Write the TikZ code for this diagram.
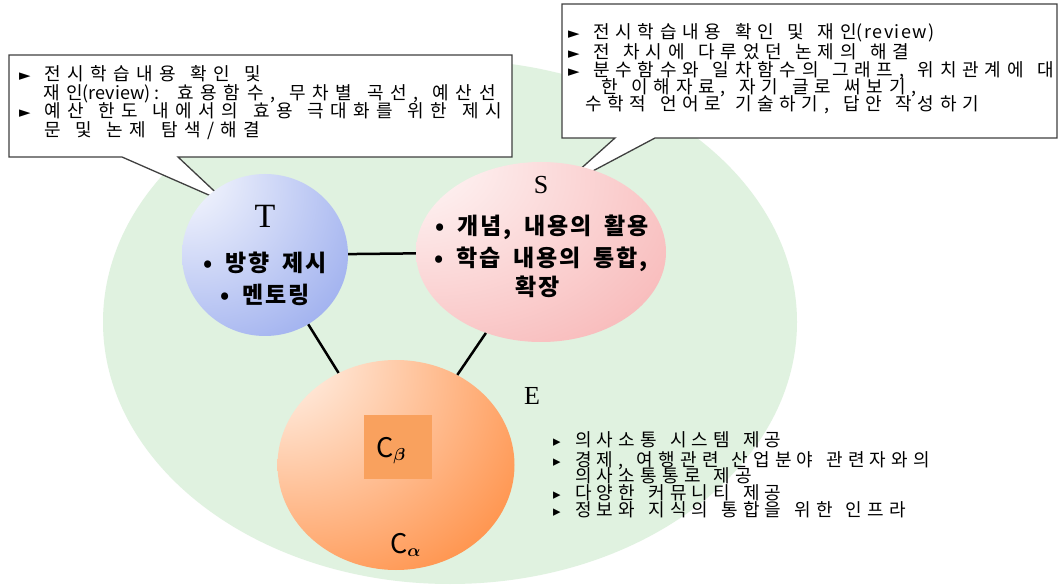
\documentclass[tikz,border=0pt]{standalone}
\usepackage{fontspec}
\usepackage{amsmath}
\usetikzlibrary{shapes.geometric}
\newfontfamily\kr[LetterSpace=36,WordSpace=1.4]{Noto Sans CJK KR}
\newfontfamily\krr[LetterSpace=32,WordSpace=1.4]{Noto Sans CJK KR}
\newfontfamily\kre[LetterSpace=29,WordSpace=1.4]{Noto Sans CJK KR}
\newfontfamily\krn{Noto Sans CJK KR}
\newfontfamily\krl[LetterSpace=8]{Noto Sans CJK KR}
\newfontfamily\krb[LetterSpace=8,WordSpace=1.8]{Noto Sans CJK KR}
\newfontfamily\sym{DejaVu Sans}
\newfontfamily\tnr{Liberation Serif}
\definecolor{greenbg}{HTML}{E0F2E0}
\definecolor{Tedge}{HTML}{7890E8}
\definecolor{Sedge}{HTML}{F59C9C}
\definecolor{Cedge}{HTML}{FF7A22}
\definecolor{Cbeta}{HTML}{F9A15E}
\pgfdeclareradialshading{Tsh}{\pgfpoint{-28bp}{28bp}}{color(0bp)=(white); color(68bp)=(Tedge); color(100bp)=(Tedge)}
\pgfdeclareradialshading{Ssh}{\pgfpoint{-32bp}{30bp}}{color(0bp)=(white); color(72bp)=(Sedge); color(100bp)=(Sedge)}
\pgfdeclareradialshading{Csh}{\pgfpoint{-30bp}{30bp}}{color(0bp)=(white); color(60bp)=(Cedge); color(100bp)=(Cedge)}
\tikzset{
  co/.style={anchor=base west, inner sep=0pt, font=\kr\fontsize{18}{20}\selectfont},
  cr/.style={anchor=base west, inner sep=0pt, font=\krr\fontsize{18}{20}\selectfont},
  et/.style={anchor=base west, inner sep=0pt, font=\kre\fontsize{18}{18}\selectfont},
  bt/.style={anchor=base, inner sep=0pt, font=\krb\bfseries\fontsize{23}{24}\selectfont},
  callout/.style={draw=black!75, line width=1.3pt, fill=white, line join=miter},
  link/.style={draw=black, line width=2.5pt},
  blob/.style={ellipse, inner sep=0pt},
}
\newcommand{\tri}{\makebox[25pt][l]{\sym\fontsize{15}{15}\selectfont ►}}
\newcommand{\stri}{\makebox[22pt][l]{\sym\fontsize{15}{15}\selectfont ▸}}
\begin{document}
\begin{tikzpicture}[x=1pt,y=-1pt]
\fill[white] (0,0) rectangle (1058,585);
\useasboundingbox (0,0) rectangle (1058,585);
% environment
\node (env) [blob, fill=greenbg, minimum width=694pt, minimum height=524pt] at (450,322) {};
% callouts
\coordinate (Ltip) at (227,203);
\coordinate (Rtip) at (557,190);
\draw[callout] (9,55) -- (512,55) -- (512,157) -- (178,157) -- (Ltip) -- (122,157) -- (9,157) -- cycle;
\draw[callout] (562,4) -- (1057,4) -- (1057,138) -- (655,138) -- (Rtip) -- (615,138) -- (562,138) -- cycle;
% main blobs
\node (T) [blob, minimum width=166pt, minimum height=162pt, shading=Tsh] at (265,255) {};
\node (S) [blob, minimum width=250pt, minimum height=180pt, shading=Ssh] at (541,252) {};
\node (Ca) [blob, minimum width=237pt, minimum height=210pt, shading=Csh] at (396,465) {};
\node (Cb) [fill=Cbeta, minimum width=68pt, minimum height=64pt, inner sep=0pt] at (398,447) {};
% links
\draw[link] (T) -- (S);
\draw[link] (T) -- (Ca);
\draw[link] (S) -- (Ca);
% labels in blobs
\node (Tl) [anchor=base, inner sep=0pt, font=\tnr\fontsize{34}{34}\selectfont] at (265,228) {T};
\node (T1) [bt] at (265,272) {• 방향 제시};
\node (T2) [bt] at (265,304) {• 멘토링};
\node (Sl) [anchor=base, inner sep=0pt, font=\tnr\fontsize{26}{26}\selectfont] at (541,194) {S};
\node (S1) [bt] at (542,235) {• 개념, 내용의 활용};
\node (S2) [bt] at (541,267) {• 학습 내용의 통합,};
\node (S3) [bt] at (538,296) {확장};
\node (El) [anchor=base west, inner sep=0pt, font=\tnr\fontsize{26}{26}\selectfont] at (524,404) {E};
\node (Cbl) [anchor=base west, inner sep=0pt, font=\krn\fontsize{27}{27}\selectfont] at (376,457) {C$_{\boldsymbol{\beta}}$};
\node (Cal) [anchor=base west, inner sep=0pt, font=\krn\fontsize{27}{27}\selectfont] at (390,553) {C$_{\boldsymbol{\alpha}}$};
% left callout text
\node (L1) [co] at (19,81) {\tri 전시학습내용 확인 및};
\node (L2) [co] at (43,100) {재인{\krn(review) :} 효용함수, 무차별 곡선, 예산선};
\node (L3) [co] at (19,118) {\tri 예산 한도 내에서의 효용 극대화를 위한 제시};
\node (L4) [co] at (44,137) {문 및 논제 탐색/해결};
% right callout text
\node (R1) [cr] at (568,39) {\tri 전시학습내용 확인 및 재인{\krl(review)}};
\node (R2) [cr] at (568,59) {\tri 전 차시에 다루었던 논제의 해결};
\node (R3) [cr] at (568,77) {\tri 분수함수와 일차함수의 그래프, 위치관계에 대};
\node (R4) [cr] at (601,94) {한 이해자료, 자기 글로 써보기,};
\node (R5) [cr] at (585,111) {수학적 언어로 기술하기, 답안 작성하기};
% E text
\node (E1) [et] at (553,446) {\stri 의사소통 시스템 제공};
\node (E2) [et] at (553,466) {\stri 경제, 여행관련 산업분야 관련자와의};
\node (E3) [et] at (575,482) {의사소통통로 제공};
\node (E4) [et] at (553,499) {\stri 다양한 커뮤니티 제공};
\node (E5) [et] at (553,516) {\stri 정보와 지식의 통합을 위한 인프라};
\end{tikzpicture}
\end{document}
